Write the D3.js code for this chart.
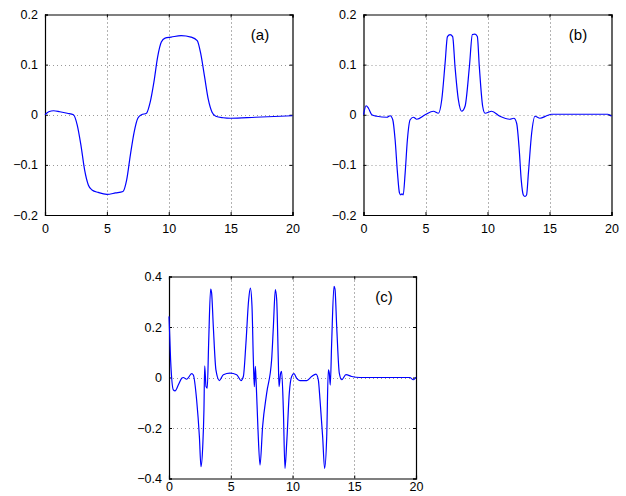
<!DOCTYPE html>
<html>
<head>
<meta charset="utf-8">
<script src="https://cdn.jsdelivr.net/npm/d3@7"></script>
<style>
  html, body { margin: 0; padding: 0; background: #fff; }
  svg { display: block; }
  text { font-family: "Liberation Sans", Arial, Helvetica, sans-serif; fill: #000; }
</style>
</head>
<body>
<svg id="chart" width="626" height="496"></svg>
<script>
// ---------- data ----------
const xTicks = [0, 5, 10, 15, 20];
const yTicksAB = [-0.2, -0.1, 0, 0.1, 0.2];
const yTicksC = [-0.4, -0.2, 0, 0.2, 0.4];
const panelLabels = ["(a)", "(b)", "(c)"];

const xA = [0,0.3,0.7,1.2,1.8,2.3,2.6,2.9,3.2,3.5,3.8,4.3,5,5.7,6.3,6.6,6.9,7.2,7.5,7.8,8.2,8.5,8.8,9.1,9.4,9.7,10.2,11,11.8,12.3,12.6,12.9,13.2,13.5,13.8,14.4,15,17,20];
const yA = [0,0.006,0.008,0.006,0.003,0,-0.02,-0.06,-0.11,-0.14,-0.15,-0.155,-0.159,-0.156,-0.153,-0.13,-0.08,-0.035,-0.007,0,0.003,0.025,0.065,0.115,0.145,0.153,0.155,0.158,0.155,0.148,0.12,0.075,0.03,0.005,-0.003,-0.006,-0.007,-0.005,-0.002];

const xB = [0,0.21,0.4,0.67,1.07,1.88,2.15,2.36,2.55,2.74,2.9,3.0,3.1,3.2,3.36,3.54,3.76,4.03,4.3,4.97,5.64,6.04,6.31,6.58,6.77,6.98,7.19,7.38,7.65,7.92,8.19,8.54,8.78,8.99,9.18,9.34,9.61,9.8,10.34,11.0,11.8,12.13,12.35,12.56,12.72,12.89,13.02,13.15,13.3,13.56,13.83,14.23,14.77,15.17,18.5,19.7,20];
const yB = [0,0.018,0.013,0.0,-0.003,-0.005,-0.002,-0.01,-0.05,-0.116,-0.156,-0.16,-0.158,-0.16,-0.116,-0.05,-0.01,-0.005,-0.009,0,0.007,0.003,0.03,0.103,0.156,0.16,0.156,0.096,0.03,0.007,0.017,0.096,0.16,0.161,0.156,0.096,0.017,0.003,0.007,-0.003,-0.009,-0.007,-0.017,-0.07,-0.13,-0.16,-0.163,-0.16,-0.116,-0.037,-0.003,-0.007,-0.002,0.001,0.001,0.001,-0.003];

const xC = [0,0.13,0.35,0.49,0.76,1.03,1.16,1.43,1.84,1.97,2.24,2.46,2.59,2.73,2.83,2.89,3.0,3.1,3.21,3.37,3.45,3.59,3.8,4.08,4.4,4.94,5.48,5.83,6.02,6.23,6.45,6.59,6.72,6.83,6.91,6.99,7.05,7.2,7.37,7.58,7.91,8.31,8.45,8.61,8.72,8.85,8.91,9.04,9.12,9.26,9.39,9.53,9.74,9.93,10.12,10.34,10.6,11.15,11.55,11.9,12.09,12.23,12.44,12.6,12.77,12.9,12.98,13.06,13.17,13.36,13.44,13.58,13.79,13.98,14.33,14.79,15.47,19.5,19.78,20];
const yC = [0.242,0.07,-0.049,-0.053,-0.029,-0.003,0.0,-0.007,0.015,0.01,-0.09,-0.234,-0.353,-0.274,-0.128,0.046,-0.036,-0.042,0.136,0.35,0.335,0.2,0.03,-0.012,0.011,0.017,0.011,-0.012,0.004,0.136,0.308,0.354,0.282,0.07,-0.036,0.044,-0.01,-0.2,-0.347,-0.194,-0.062,0.07,0.2,0.348,0.308,0.07,-0.036,0.017,0.024,-0.128,-0.36,-0.26,-0.062,0.004,0.015,-0.003,-0.012,-0.012,0.004,0.013,-0.009,-0.09,-0.234,-0.36,-0.234,0.03,0.017,-0.03,0.136,0.361,0.35,0.2,0.017,-0.009,0.011,0.004,0,0,-0.009,0.001];

// ---------- drawing ----------
const svg = d3.select("#chart");

const fmt = v => (v === 0 ? "0" : (v < 0 ? "\u2212" : "") + Math.abs(v).toFixed(1));

function panel(cfg) {
  const x = d3.scaleLinear().domain([0, 20]).range([cfg.left, cfg.right]);
  const y = d3.scaleLinear().domain(cfg.yDomain).range([cfg.bottom, cfg.top]);
  const g = svg.append("g");

  // grid
  g.selectAll(".vg").data(cfg.xTicks.slice(1, -1)).enter().append("line")
    .attr("x1", d => Math.round(x(d)) + 0.5).attr("x2", d => Math.round(x(d)) + 0.5)
    .attr("y1", cfg.top).attr("y2", cfg.bottom)
    .attr("stroke", "#666").attr("stroke-width", 1).attr("stroke-dasharray", "1,3");
  g.selectAll(".hg").data(cfg.yTicks.slice(1, -1)).enter().append("line")
    .attr("y1", d => Math.round(y(d)) + 0.5).attr("y2", d => Math.round(y(d)) + 0.5)
    .attr("x1", cfg.left).attr("x2", cfg.right)
    .attr("stroke", "#999").attr("stroke-width", 1).attr("stroke-dasharray", "1,3");

  // axes with inward ticks
  const axB = d3.axisBottom(x).tickValues(cfg.xTicks).tickSize(-3).tickPadding(cfg.xPad).tickFormat(d3.format("d"));
  const axT = d3.axisTop(x).tickValues(cfg.xTicks).tickSize(-3).tickFormat("");
  const axL = d3.axisLeft(y).tickValues(cfg.yTicks).tickSize(-3).tickPadding(7).tickFormat(fmt);
  const axR = d3.axisRight(y).tickValues(cfg.yTicks).tickSize(-3).tickFormat("");
  [[axB, `translate(0,${cfg.bottom})`], [axT, `translate(0,${cfg.top})`],
   [axL, `translate(${cfg.left},0)`], [axR, `translate(${cfg.right},0)`]].forEach(([ax, tr]) => {
    const a = g.append("g").attr("transform", tr).call(ax);
    a.select(".domain").attr("stroke", "#000").attr("stroke-width", 1.2);
    a.selectAll(".tick line").attr("stroke", "#000");
    a.selectAll("text").style("font-size", "12.5px").style("font-family", "'Liberation Sans', Arial, sans-serif");
  });

  // line
  const line = d3.line().x((d, i) => x(cfg.xs[i])).y(d => y(d)).curve(d3.curveMonotoneX);
  g.append("path").datum(cfg.ys).attr("d", line)
    .attr("fill", "none").attr("stroke", "#0000ff").attr("stroke-width", 1.2);

  // label
  g.append("text").attr("x", cfg.labelX).attr("y", cfg.labelY)
    .attr("text-anchor", "middle").style("font-size", "15px").text(cfg.label);
}

panel({left: 45, right: 292.5, top: 14.5, bottom: 215, yDomain: [-0.2, 0.2], xTicks, yTicks: yTicksAB,
       xs: xA, ys: yA, label: panelLabels[0], labelX: 260, labelY: 40, xPad: 9});
panel({left: 363.5, right: 611.5, top: 14.5, bottom: 215, yDomain: [-0.2, 0.2], xTicks, yTicks: yTicksAB,
       xs: xB, ys: yB, label: panelLabels[1], labelX: 578, labelY: 40, xPad: 9});
panel({left: 169, right: 416, top: 276.5, bottom: 478.5, yDomain: [-0.4, 0.4], xTicks, yTicks: yTicksC,
       xs: xC, ys: yC, label: panelLabels[2], labelX: 384, labelY: 302, xPad: 4});
</script>
</body>
</html>
